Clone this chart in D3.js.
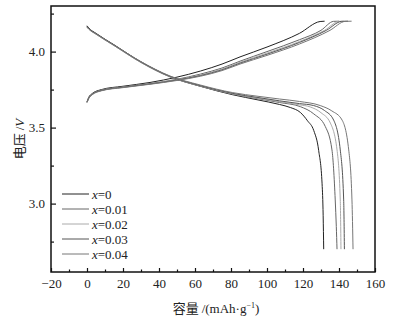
<!DOCTYPE html>
<html>
<head>
<meta charset="utf-8">
<script src="https://cdn.jsdelivr.net/npm/d3@7"></script>
<style>
  html, body { margin: 0; padding: 0; background: #fff; }
  text { font-family: "Liberation Serif", "Noto Sans CJK SC", serif; fill: #222; }
</style>
</head>
<body>
<div id="chart"></div>
<script>
// legend labels (doping amount x)
var seriesLabels = ["0", "0.01", "0.02", "0.03", "0.04"];

// charge curves: [capacity mAh/g, voltage V]
var charge0 = [[0,3.67],[1,3.70],[3,3.725],[8,3.75],[20,3.772],[35,3.797],[50,3.832],[63,3.872],[75,3.918],[85,3.965],[100,4.03],[118,4.12],[129.5,4.198],[132,4.2]];
var charge1 = [[0,3.668],[1,3.697],[3,3.722],[8,3.747],[20,3.768],[35,3.79],[50,3.818],[63,3.852],[75,3.892],[85,3.937],[100,4.0],[118,4.078],[130,4.14],[137,4.199],[140,4.2]];
var charge2 = [[0,3.667],[1,3.695],[3,3.72],[8,3.745],[20,3.766],[35,3.788],[50,3.815],[63,3.846],[75,3.886],[85,3.93],[100,3.99],[118,4.066],[132,4.14],[140,4.199],[143,4.2]];
var charge3 = [[0,3.666],[1,3.694],[3,3.719],[8,3.744],[20,3.765],[35,3.787],[50,3.813],[63,3.842],[75,3.88],[85,3.924],[100,3.983],[118,4.06],[133,4.14],[141.5,4.199],[145,4.2]];
var charge4 = [[0,3.665],[1,3.692],[3,3.717],[8,3.742],[20,3.763],[35,3.785],[50,3.81],[63,3.838],[75,3.875],[85,3.918],[100,3.975],[118,4.05],[135,4.14],[143.5,4.199],[147,4.2]];

// discharge curves: [capacity mAh/g, voltage V]
var discharge0 = [[0,4.17],[1,4.155],[5,4.12],[15,4.045],[30,3.932],[46,3.836],[63,3.772],[81,3.716],[95,3.682],[107,3.652],[113,3.632],[118.5,3.6],[122.5,3.545],[126,3.48],[128.7,3.35],[130.6,3.13],[131.2,2.92],[131.5,2.70]];
var discharge1 = [[0,4.16],[1,4.148],[5,4.115],[15,4.04],[30,3.928],[46,3.834],[63,3.772],[81,3.72],[95,3.69],[107,3.665],[118.5,3.638],[126,3.59],[132.4,3.507],[136.1,3.353],[137.9,3.024],[138.5,2.85],[138.9,2.70]];
var discharge2 = [[0,4.16],[1,4.147],[5,4.114],[15,4.04],[30,3.93],[46,3.836],[63,3.774],[81,3.722],[95,3.693],[107,3.67],[118,3.65],[124,3.636],[130,3.598],[135.2,3.53],[138.9,3.353],[140.7,3.024],[141.1,2.70]];
var discharge3 = [[0,4.165],[1,4.152],[5,4.118],[15,4.043],[30,3.932],[46,3.838],[63,3.776],[81,3.725],[95,3.698],[107,3.676],[118,3.658],[125.9,3.645],[132,3.612],[137,3.55],[140.7,3.353],[142.6,3.024],[143,2.70]];
var discharge4 = [[0,4.165],[1,4.15],[5,4.117],[15,4.043],[30,3.934],[46,3.84],[63,3.78],[81,3.73],[95,3.706],[107,3.688],[118,3.672],[129.6,3.645],[136,3.61],[141.7,3.55],[145.4,3.353],[147.2,3.024],[147.8,2.70]];

// axis ticks
var xMajorTicks = [-20, 0, 20, 40, 60, 80, 100, 120, 140, 160];
var xMinorTicks = [-10, 10, 30, 50, 70, 90, 110, 130, 150];
var yMajorTicks = [3.0, 3.5, 4.0];
var yMinorTicks = [2.75, 3.25, 3.75, 4.25];

var chargeCurves = [charge0, charge1, charge2, charge3, charge4];
var dischargeCurves = [discharge0, discharge1, discharge2, discharge3, discharge4];
var colors = ["#222", "#666", "#aaa", "#555", "#777"];

var width = 393, height = 327;
var mLeft = 51, mRight = 375, mTop = 6, mBottom = 272;

var svg = d3.select("#chart").append("svg")
    .attr("width", width)
    .attr("height", height);

var x = d3.scaleLinear().domain([-20, 160]).range([mLeft, mRight]);
var y = d3.scaleLinear().domain([2.55, 4.30]).range([mBottom, mTop]);

var line = d3.line()
    .x(function(d) { return x(d[0]); })
    .y(function(d) { return y(d[1]); })
    .curve(d3.curveMonotoneX);

// curves
var plot = svg.append("g");
chargeCurves.forEach(function(c, i) {
    plot.append("path")
        .attr("d", line(c))
        .attr("fill", "none")
        .attr("stroke", colors[i])
        .attr("stroke-width", 1);
});
dischargeCurves.forEach(function(c, i) {
    plot.append("path")
        .attr("d", line(c))
        .attr("fill", "none")
        .attr("stroke", colors[i])
        .attr("stroke-width", 1);
});

// x axis (ticks point inward)
svg.append("g")
    .attr("transform", "translate(0," + mBottom + ")")
    .call(d3.axisBottom(x).tickValues(xMajorTicks).tickSize(-4).tickPadding(7));
svg.append("g")
    .attr("transform", "translate(0," + mBottom + ")")
    .call(d3.axisBottom(x).tickValues(xMinorTicks).tickSize(-2.5).tickFormat(""));

// y axis
svg.append("g")
    .attr("transform", "translate(" + mLeft + ",0)")
    .call(d3.axisLeft(y).tickValues(yMajorTicks).tickSize(-5).tickPadding(6).tickFormat(d3.format(".1f")));
svg.append("g")
    .attr("transform", "translate(" + mLeft + ",0)")
    .call(d3.axisLeft(y).tickValues(yMinorTicks).tickSize(-3).tickFormat(""));

svg.selectAll(".tick line").attr("stroke", "#111").attr("stroke-width", 1.2);
svg.selectAll(".tick text")
    .style("font-family", "'Liberation Serif', serif")
    .style("font-size", "13px")
    .attr("fill", "#222");
svg.selectAll(".domain").remove();

// frame
svg.append("rect")
    .attr("x", mLeft)
    .attr("y", mTop)
    .attr("width", mRight - mLeft)
    .attr("height", mBottom - mTop)
    .attr("fill", "none")
    .attr("stroke", "#111")
    .attr("stroke-width", 1.5);

// axis titles
var yTitle = svg.append("text")
    .attr("transform", "translate(24,139) rotate(-90)")
    .attr("text-anchor", "middle")
    .style("font-size", "13px");
yTitle.append("tspan").style("font-family", "'Noto Sans CJK SC'").text("电压 ");
yTitle.append("tspan").text("/");
yTitle.append("tspan").style("font-style", "italic").text("V");

var xTitle = svg.append("text")
    .attr("x", 216)
    .attr("y", 313)
    .attr("text-anchor", "middle")
    .style("font-size", "13px");
xTitle.append("tspan").style("font-family", "'Noto Sans CJK SC'").text("容量 ");
xTitle.append("tspan").text("/(mAh·g");
xTitle.append("tspan").attr("dy", -5).style("font-size", "8px").text("−1");
xTitle.append("tspan").attr("dy", 5).text(")");

// legend
var legend = svg.append("g");
seriesLabels.forEach(function(lab, i) {
    var ly = 194 + i * 15;
    legend.append("line")
        .attr("x1", 62).attr("x2", 89)
        .attr("y1", ly).attr("y2", ly)
        .attr("stroke", colors[i])
        .attr("stroke-width", 1);
    var t = legend.append("text")
        .attr("x", 92)
        .attr("y", ly + 4.5)
        .style("font-size", "13px");
    t.append("tspan").style("font-style", "italic").text("x");
    t.append("tspan").text("=" + lab);
});
</script>
</body>
</html>
